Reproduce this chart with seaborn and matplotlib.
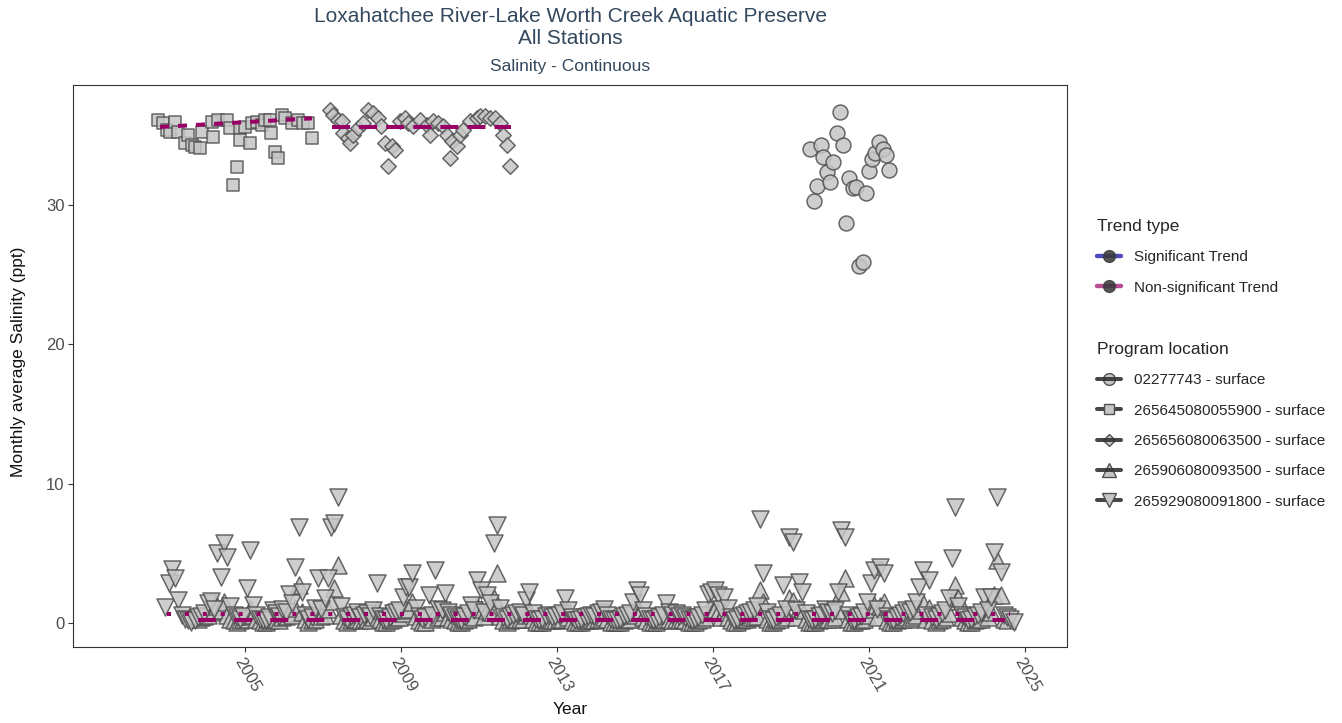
import numpy as np
import pandas as pd
import matplotlib
matplotlib.use("Agg")
import matplotlib.pyplot as plt
import seaborn as sns
from matplotlib.lines import Line2D
from matplotlib.legend_handler import HandlerTuple

sns.set_theme(style="white")
plt.rcParams["font.family"] = ["Liberation Sans", "DejaVu Sans"]
plt.rcParams["lines.scale_dashes"] = False

# ---------------- data ----------------
station_labels = [
    "02277743 - surface",
    "265645080055900 - surface",
    "265656080063500 - surface",
    "265906080093500 - surface",
    "265929080091800 - surface",
]

circ_year = [2019.50, 2019.59, 2019.67, 2019.76, 2019.83, 2019.92, 2020.00, 2020.08,
             2020.17, 2020.26, 2020.34, 2020.41, 2020.50, 2020.58, 2020.67, 2020.74,
             2020.84, 2020.92, 2021.00, 2021.08, 2021.15, 2021.26, 2021.35, 2021.43,
             2021.51]
circ_val = [33.95, 30.25, 31.30, 34.25, 33.40, 32.35, 31.60, 33.07,
            35.10, 36.65, 34.30, 28.65, 31.88, 31.16, 31.28, 25.60,
            25.90, 30.85, 32.40, 33.30, 33.67, 34.50, 34.00, 33.55,
            32.50]

sq_year = [2002.78, 2002.91, 2002.99, 2003.08, 2003.21, 2003.29, 2003.45, 2003.53,
           2003.63, 2003.72, 2003.85, 2003.89, 2004.15, 2004.19, 2004.32, 2004.53,
           2004.62, 2004.70, 2004.79, 2004.87, 2004.87, 2005.00, 2005.13, 2005.17,
           2005.30, 2005.43, 2005.51, 2005.64, 2005.68, 2005.77, 2005.85, 2005.94,
           2006.03, 2006.20, 2006.37, 2006.50, 2006.62, 2006.71]
sq_val = [36.06, 35.82, 35.34, 35.22, 35.94, 35.22, 34.39, 34.98,
          34.27, 34.14, 34.03, 35.22, 35.94, 34.86, 36.06, 36.06,
          35.46, 31.40, 32.71, 35.46, 34.62, 35.58, 34.39, 35.82,
          35.94, 35.70, 36.06, 36.06, 35.10, 33.79, 33.31, 36.42,
          36.18, 35.82, 36.06, 35.82, 35.82, 34.75]

dia_year = [2007.18, 2007.26, 2007.39, 2007.48, 2007.52, 2007.65, 2007.69, 2007.78,
            2007.90, 2008.03, 2008.16, 2008.29, 2008.42, 2008.50, 2008.59, 2008.67,
            2008.76, 2008.85, 2008.97, 2009.10, 2009.19, 2009.32, 2009.49, 2009.66,
            2009.74, 2009.83, 2009.96, 2010.09, 2010.17, 2010.26, 2010.30, 2010.43,
            2010.51, 2010.60, 2010.77, 2010.94, 2011.03, 2011.15, 2011.28, 2011.41,
            2011.54, 2011.62, 2011.71, 2011.79]
dia_val = [36.80, 36.44, 36.08, 35.96, 35.13, 34.77, 34.41, 35.00,
           35.48, 35.84, 36.80, 36.56, 36.20, 35.60, 34.41, 32.74,
           34.17, 33.93, 35.96, 36.20, 35.84, 35.60, 36.08, 35.72,
           35.00, 35.96, 35.84, 35.60, 35.00, 33.33, 34.53, 34.17,
           35.00, 35.36, 35.96, 36.20, 36.32, 36.32, 36.20, 36.20,
           35.84, 35.00, 34.29, 32.74]

# monthly series, first month given by *_start (year, month)
up_start = (2003, 10)
up_vals = [
    0.3, 0.4, 0.5,                                                  # 2003 Oct-Dec
    0.6, 0.8, 0.9, 1.2, 0.9, 1.5, 0.6, 0.3, 0.2, 0.1, 0.2, 0.3,     # 2004
    0.5, 1.0, 0.6, 0.3, 0.2, 0.1, 0.1, 0.2, 0.3, 0.3, 0.2, 0.4,     # 2005
    0.5, 0.7, 0.6, 1.1, 2.7, 0.8, 0.3, 0.1, 0.2, 0.3, 0.9, 0.5,     # 2006
    0.6, 1.0, 1.6, 2.5, 4.16, 0.6, 0.2, 0.1, 0.2, 0.3, 0.3, 0.2,    # 2007
    0.3, 0.3, 0.2, 0.4, 0.9, 0.3, 0.1, 0.1, 0.2, 0.3, 0.4, 0.4,     # 2008
    0.7, 0.9, 1.0, 1.5, 0.5, 0.2, 0.1, 0.1, 0.6, 0.3, 1.0, 0.4,     # 2009
    0.4, 0.8, 0.4, 0.3, 0.2, 0.1, 0.1, 0.2, 0.3, 0.5, 0.4, 1.2,     # 2010
    1.0, 0.5, 0.9, 0.8, 1.8, 3.56, 0.5, 0.2, 0.1, 0.2, 0.3, 0.3,    # 2011
    0.3, 0.3, 0.6, 0.9, 0.3, 0.1, 0.1, 0.1, 0.2, 0.3, 0.2, 0.2,     # 2012
    0.3, 0.3, 0.7, 0.4, 0.2, 0.1, 0.1, 0.1, 0.2, 0.2, 0.3, 0.2,     # 2013
    0.3, 0.3, 0.4, 0.3, 0.1, 0.1, 0.1, 0.1, 0.2, 0.3, 0.3, 0.6,     # 2014
    1.0, 0.8, 0.4, 0.2, 0.1, 0.1, 0.1, 0.2, 0.3, 0.6, 0.3, 0.2,     # 2015
    0.3, 0.2, 0.3, 0.2, 0.1, 0.1, 0.1, 0.2, 0.3, 0.4, 0.9, 1.0,     # 2016
    1.0, 0.8, 0.4, 0.8, 0.4, 0.2, 0.1, 0.1, 0.2, 0.3, 0.3, 0.4,     # 2017
    0.4, 0.5, 2.4, 1.5, 0.3, 0.1, 0.1, 0.2, 0.3, 1.0, 0.4, 1.8,     # 2018
    1.6, 0.4, 1.1, 0.9, 0.3, 0.1, 0.1, 0.1, 0.2, 0.3, 0.4, 0.3,     # 2019
    0.3, 0.4, 0.9, 2.2, 3.2, 0.3, 0.1, 0.1, 0.2, 0.2, 0.3, 0.6,     # 2020
    1.0, 1.3, 0.4, 1.2, 1.5, 0.2, 0.1, 0.1, 0.2, 0.3, 0.3, 0.4,     # 2021
    0.3, 0.4, 0.6, 0.9, 1.4, 0.3, 1.1, 0.2, 0.1, 0.2, 0.3, 0.4,     # 2022
    0.7, 1.6, 2.7, 1.8, 0.4, 0.2, 0.1, 0.1, 0.2, 0.3, 0.3, 0.8,     # 2023
    0.4, 0.8, 2.0, 4.5, 2.0, 0.3, 0.2,                              # 2024 Jan-Jul
]

down_start = (2002, 12)
down_vals = [
    1.17,                                                           # 2002 Dec
    2.85, 3.9, 3.2, 1.65, 0.6, 0.3, 0.2, 0.1, 0.2, 0.4, 0.5, 0.7,   # 2003
    1.4, 1.6, 1.0, 5.0, 3.3, 5.7, 4.75, 1.2, 0.6, 0.4, 0.3, 0.5,    # 2004
    2.5, 5.23, 1.3, 0.6, 0.3, 0.2, 0.2, 0.4, 0.9, 0.7, 0.5, 1.0,    # 2005
    0.8, 2.1, 1.4, 4.03, 6.9, 2.25, 0.6, 0.3, 0.4, 1.1, 3.2, 1.0,   # 2006
    1.8, 3.2, 6.9, 7.15, 9.05, 1.2, 0.4, 0.3, 0.5, 0.6, 0.8, 0.4,   # 2007
    0.6, 0.7, 0.5, 0.9, 2.85, 0.5, 0.3, 0.2, 0.4, 0.7, 0.8, 0.9,    # 2008
    1.9, 2.6, 2.6, 3.56, 1.1, 0.5, 0.3, 0.4, 2.0, 0.6, 3.8, 1.0,    # 2009
    0.9, 2.15, 0.8, 0.6, 0.4, 0.3, 0.2, 0.5, 0.7, 1.3, 0.9, 3.08,   # 2010
    2.4, 0.8, 2.0, 1.4, 5.7, 7.0, 1.1, 0.4, 0.3, 0.5, 0.6, 0.7,     # 2011
    0.8, 0.6, 1.65, 2.25, 0.7, 0.3, 0.2, 0.3, 0.5, 0.6, 0.4, 0.5,   # 2012
    0.6, 0.7, 1.77, 0.9, 0.4, 0.2, 0.2, 0.3, 0.4, 0.5, 0.6, 0.5,    # 2013
    0.7, 0.8, 1.0, 0.6, 0.3, 0.2, 0.2, 0.3, 0.5, 0.6, 0.7, 1.5,     # 2014
    2.37, 2.0, 0.9, 0.5, 0.3, 0.2, 0.3, 0.4, 0.6, 1.4, 0.8, 0.6,    # 2015
    0.7, 0.5, 0.6, 0.4, 0.3, 0.2, 0.3, 0.4, 0.6, 0.9, 2.1, 2.25,    # 2016
    2.37, 2.0, 1.0, 1.9, 1.05, 0.4, 0.2, 0.3, 0.5, 0.6, 0.7, 0.8,   # 2017
    0.9, 1.2, 7.43, 3.56, 0.8, 0.3, 0.2, 0.4, 0.6, 2.7, 1.0, 6.19,  # 2018
    5.83, 0.9, 2.96, 2.25, 0.7, 0.3, 0.2, 0.3, 0.5, 0.6, 1.0, 0.8,  # 2019
    0.7, 0.9, 2.25, 6.67, 6.19, 0.6, 0.3, 0.2, 0.4, 0.5, 0.8, 1.5,  # 2020
    2.85, 3.8, 1.0, 4.03, 3.56, 0.5, 0.3, 0.2, 0.4, 0.6, 0.7, 0.9,  # 2021
    0.8, 1.0, 1.5, 2.6, 3.8, 0.6, 3.08, 0.4, 0.3, 0.5, 0.7, 0.9,    # 2022
    1.77, 4.63, 8.34, 1.2, 0.6, 0.4, 0.2, 0.3, 0.5, 0.6, 0.8, 1.9,  # 2023
    0.9, 1.9, 5.1, 9.05, 3.68, 0.6, 0.4, 0.3, 0.1,                  # 2024 Jan-Sep
]

# trend lines (non-significant)
trend_start = [2002.82, 2007.22, 2002.99, 2003.80]
trend_end = [2006.72, 2011.81, 2024.62, 2024.50]
trend_v0 = [35.56, 35.53, 0.62, 0.24]
trend_v1 = [36.18, 35.53, 0.62, 0.24]

x_ticks = [2005, 2009, 2013, 2017, 2021, 2025]
y_ticks = [0, 10, 20, 30]


def monthly_years(start, n):
    idx = np.arange(n) + (start[1] - 1)
    return start[0] + idx // 12 + ((idx % 12) + 0.5) / 12.0


frames = [
    pd.DataFrame({"year": circ_year, "val": circ_val, "station": station_labels[0]}),
    pd.DataFrame({"year": sq_year, "val": sq_val, "station": station_labels[1]}),
    pd.DataFrame({"year": dia_year, "val": dia_val, "station": station_labels[2]}),
    pd.DataFrame({"year": monthly_years(up_start, len(up_vals)), "val": up_vals,
                  "station": station_labels[3]}),
    pd.DataFrame({"year": monthly_years(down_start, len(down_vals)), "val": down_vals,
                  "station": station_labels[4]}),
]
df = pd.concat(frames, ignore_index=True)

# ---------------- figure ----------------
fig = plt.figure(figsize=(13.42, 7.23), dpi=100)
ax = fig.add_axes([73 / 1342, 76 / 723, 994 / 1342, 562 / 723])

marker_map = {station_labels[0]: ("o", 115), station_labels[1]: ("s", 80),
              station_labels[2]: ("D", 62), station_labels[3]: ("^", 150),
              station_labels[4]: ("v", 150)}
fill = "#c6c6c6"
edge = "#505050"
for st in station_labels:
    m, s = marker_map[st]
    sub = df[df["station"] == st]
    sns.scatterplot(data=sub, x="year", y="val", marker=m, s=s, color=fill,
                    edgecolor=edge, linewidth=1.1, alpha=0.85, legend=False, ax=ax,
                    zorder=2)

trend_col = "#990066"
trend_dashes = [(6.5, 6.5), (13, 6.5), (2.9, 10.0), (13, 13)]
for i in range(len(trend_start)):
    ax.plot([trend_start[i], trend_end[i]], [trend_v0[i], trend_v1[i]],
            color=trend_col, lw=2.9, dashes=trend_dashes[i], solid_capstyle="butt",
            dash_capstyle="butt", zorder=4)

ax.set_xlim(2000.59, 2026.08)
ax.set_ylim(-1.72, 38.57)
ax.set_xticks(x_ticks)
ax.set_yticks(y_ticks)
ax.set_xticklabels([str(t) for t in x_ticks])
ax.set_yticklabels([str(t) for t in y_ticks])
ax.set_xlabel("")
ax.set_ylabel("")
for sp in ax.spines.values():
    sp.set_color("#333333")
    sp.set_linewidth(0.8)
ax.tick_params(axis="both", which="major", length=3.6, width=0.8, color="#333333",
               labelsize=12, labelcolor="#4d4d4d", bottom=True, left=True,
               direction="out", pad=2.5)
for lbl in ax.get_xticklabels():
    lbl.set_rotation(-60)
    lbl.set_ha("left")
    lbl.set_va("top")
    lbl.set_rotation_mode("anchor")
ax.grid(False)

# titles
title_col = "#34495e"
fig.text(570 / 1342, 1 - 16 / 723, "Loxahatchee River-Lake Worth Creek Aquatic Preserve",
         ha="center", va="center", fontsize=15, color=title_col)
fig.text(570 / 1342, 1 - 39 / 723, "All Stations", ha="center", va="center",
         fontsize=15, color=title_col)
fig.text(570 / 1342, 1 - 66 / 723, "Salinity - Continuous", ha="center", va="center",
         fontsize=12.5, color=title_col)
fig.text(19 / 1342, 1 - 362 / 723, "Monthly average Salinity (ppt)", rotation=90,
         ha="center", va="center", fontsize=12.5, color="#111111")
fig.text(570 / 1342, 1 - 710 / 723, "Year", ha="center", va="center", fontsize=12.5,
         color="#111111")

# legends
trend_labels = ["Significant Trend", "Non-significant Trend"]
trend_handles = []
for c in ["#000099", "#990066"]:
    ln = Line2D([], [], color=c, alpha=0.7, lw=3.2)
    mk = Line2D([], [], ls="none", marker="o", ms=8.5, mfc="#3a3a3a", mec="#3a3a3a",
                alpha=0.85)
    trend_handles.append((ln, mk))

loc_handles = []
leg_ms = {"o": 8.5, "s": 7.2, "D": 6.2, "^": 10, "v": 10}
line_on_top = {"o": True, "s": False, "D": True, "^": True, "v": False}
for st in station_labels:
    m = marker_map[st][0]
    ln = Line2D([], [], color="#333333", alpha=0.9, lw=2.9)
    mk = Line2D([], [], ls="none", marker=m, ms=leg_ms[m], mfc=fill, mec=edge, mew=1.0)
    loc_handles.append((mk, ln) if line_on_top[m] else (ln, mk))

common = dict(loc="upper left", frameon=False, fontsize=11, title_fontsize=12.5,
              handler_map={tuple: HandlerTuple(ndivide=1, pad=0)}, alignment="left",
              handlelength=1.6, handletextpad=0.85, labelspacing=1.07, borderpad=0,
              borderaxespad=0, numpoints=1)
leg1 = fig.legend(trend_handles, trend_labels, title="Trend type",
                  bbox_to_anchor=(1097 / 1342, 1 - 219 / 723), **common)
leg2 = fig.legend(loc_handles, station_labels, title="Program location",
                  bbox_to_anchor=(1097 / 1342, 1 - 342 / 723), **common)

fig.savefig("out.png", dpi=100, facecolor="white")
